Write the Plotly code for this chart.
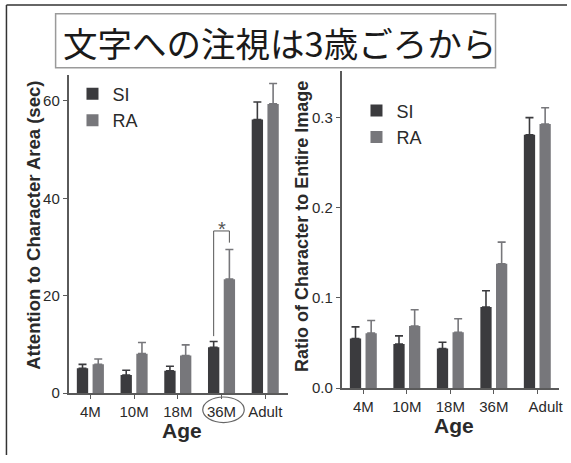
import plotly.graph_objects as go

# ---- data ----
ages = ["4M", "10M", "18M", "36M", "Adult"]

# attention time to character area (sec)
time_si = [5.1, 3.7, 4.6, 9.4, 56.2]
time_si_err = [0.8, 1.0, 0.9, 1.2, 3.6]
time_ra = [5.9, 8.1, 7.7, 23.4, 59.4]
time_ra_err = [1.1, 2.3, 2.2, 6.1, 4.2]

# ratio of character area to entire image
ratio_si = [0.055, 0.049, 0.044, 0.090, 0.281]
ratio_si_err = [0.013, 0.009, 0.007, 0.018, 0.019]
ratio_ra = [0.061, 0.069, 0.062, 0.138, 0.293]
ratio_ra_err = [0.014, 0.018, 0.015, 0.024, 0.018]

# significance bracket for 36M (SI vs RA), in seconds
sig_index = 3
sig_left_base = 11.7
sig_right_base = 30.9
sig_top = 33.3

# ---- style ----
W, H = 571, 463
C_SI = "#3b3b3e"
C_RA = "#77777b"
AXC = "#5a5a5a"
TXT = "#2a2a2a"
FONT = "Liberation Sans, Arial, sans-serif"
BARGAP = 0.28
GROUPGAP = 0.28
half_off = (1 - BARGAP) / 4  # centre offset of each bar inside a group

x = list(range(len(ages)))


def px_x(p):
    return p / W


def px_y(p):
    return 1 - p / H


fig = go.Figure()


def add_bars(vals, errs, name, color, xa, ya, legend):
    fig.add_trace(go.Bar(
        x=x, y=vals, name=name, xaxis=xa, yaxis=ya, legend=legend,
        marker=dict(color=color, line=dict(width=0)),
        error_y=dict(type="data", array=errs, arrayminus=[0] * len(errs),
                     symmetric=False, color=color, thickness=1.6, width=4),
    ))


add_bars(time_si, time_si_err, "SI", C_SI, "x", "y", "legend")
add_bars(time_ra, time_ra_err, "RA", C_RA, "x", "y", "legend")
add_bars(ratio_si, ratio_si_err, "SI", C_SI, "x2", "y2", "legend2")
add_bars(ratio_ra, ratio_ra_err, "RA", C_RA, "x2", "y2", "legend2")

axis_common = dict(
    showline=True, linecolor=AXC, linewidth=1.5, ticks="outside", ticklen=4,
    tickwidth=1.2, tickcolor=AXC, showgrid=False, zeroline=False,
    tickfont=dict(family=FONT, size=15, color=TXT),
)

right_ticktext = ages[:-1] + ["\u00a0" * 4 + ages[-1]]

fig.update_layout(
    width=W, height=H, margin=dict(l=0, r=0, t=0, b=0),
    paper_bgcolor="white", plot_bgcolor="white",
    barmode="group", bargap=BARGAP, bargroupgap=GROUPGAP,
    xaxis=dict(axis_common, domain=[px_x(69), px_x(290)], range=[-0.5, 4.52],
               tickvals=x, ticktext=ages, anchor="y"),
    yaxis=dict(axis_common, domain=[px_y(400), px_y(76)], range=[0, 65.4],
               tickvals=[0, 20, 40, 60], anchor="x"),
    xaxis2=dict(axis_common, domain=[px_x(344), px_x(563)], range=[-0.5, 4.5],
                tickvals=x, ticktext=right_ticktext, anchor="y2"),
    yaxis2=dict(axis_common, domain=[px_y(395), px_y(72)], range=[0, 0.352],
                tickvals=[0, 0.1, 0.2, 0.3], tickformat=".1f", anchor="x2"),
    legend=dict(x=px_x(73), y=px_y(77), xanchor="left", yanchor="top",
                bgcolor="rgba(0,0,0,0)", font=dict(family=FONT, size=18, color=TXT)),
    legend2=dict(x=px_x(359), y=px_y(94), xanchor="left", yanchor="top",
                 bgcolor="rgba(0,0,0,0)", font=dict(family=FONT, size=18, color=TXT)),
)

shapes = []
# outer frame (left and top edges)
shapes.append(dict(type="line", xref="paper", yref="paper", x0=px_x(6.5), x1=px_x(6.5),
                   y0=0, y1=px_y(5), line=dict(color="#333", width=1.5)))
shapes.append(dict(type="line", xref="paper", yref="paper", x0=px_x(6.5), x1=1,
                   y0=px_y(5), y1=px_y(5), line=dict(color="#333", width=1.5)))
# headline box
shapes.append(dict(type="rect", xref="paper", yref="paper", x0=px_x(56), x1=px_x(499),
                   y0=px_y(69), y1=px_y(14), line=dict(color="#9a9a9a", width=1.5)))
# significance bracket
xl = sig_index - half_off
xr = sig_index + half_off
bracket = dict(color="#555", width=1)
shapes.append(dict(type="line", xref="x", yref="y", x0=xl, x1=xl, y0=sig_left_base, y1=sig_top, line=bracket))
shapes.append(dict(type="line", xref="x", yref="y", x0=xl, x1=xr, y0=sig_top, y1=sig_top, line=bracket))
shapes.append(dict(type="line", xref="x", yref="y", x0=xr, x1=xr, y0=sig_right_base, y1=sig_top, line=bracket))
# ring around the 36M label
shapes.append(dict(type="circle", xref="x", yref="paper", x0=sig_index - 0.43, x1=sig_index + 0.52,
                   y0=px_y(430), y1=px_y(404), line=dict(color="#666", width=1.2)))
fig.update_layout(shapes=shapes)

annotations = [
    dict(text="文字への注視は3歳ごろから", xref="paper", yref="paper", x=px_x(61), y=px_y(43),
         xanchor="left", yanchor="middle", showarrow=False,
         font=dict(family="Noto Sans CJK JP", size=34.5, color="#1a1a1a")),
    dict(text="Attention to Character Area (sec)", xref="paper", yref="paper",
         x=px_x(33), y=px_y(229), textangle=-90, showarrow=False,
         xanchor="center", yanchor="middle",
         font=dict(family=FONT, size=18.5, color=TXT, weight="bold")),
    dict(text="Ratio of Character to Entire Image", xref="paper", yref="paper",
         x=px_x(304), y=px_y(230), textangle=-90, showarrow=False,
         xanchor="center", yanchor="middle",
         font=dict(family=FONT, size=18, color=TXT, weight="bold")),
    dict(text="Age", xref="paper", yref="paper", x=px_x(183), y=px_y(438),
         showarrow=False, xanchor="center", yanchor="middle",
         font=dict(family=FONT, size=21, color=TXT, weight="bold")),
    dict(text="Age", xref="paper", yref="paper", x=px_x(457), y=px_y(433),
         showarrow=False, xanchor="center", yanchor="middle",
         font=dict(family=FONT, size=21, color=TXT, weight="bold")),
    dict(text="*", xref="x", yref="y", x=sig_index, y=sig_top + 0.4,
         showarrow=False, xanchor="center", yanchor="middle",
         font=dict(family=FONT, size=20, color="#555")),
]
fig.update_layout(annotations=annotations)

fig.write_html("out.html")
